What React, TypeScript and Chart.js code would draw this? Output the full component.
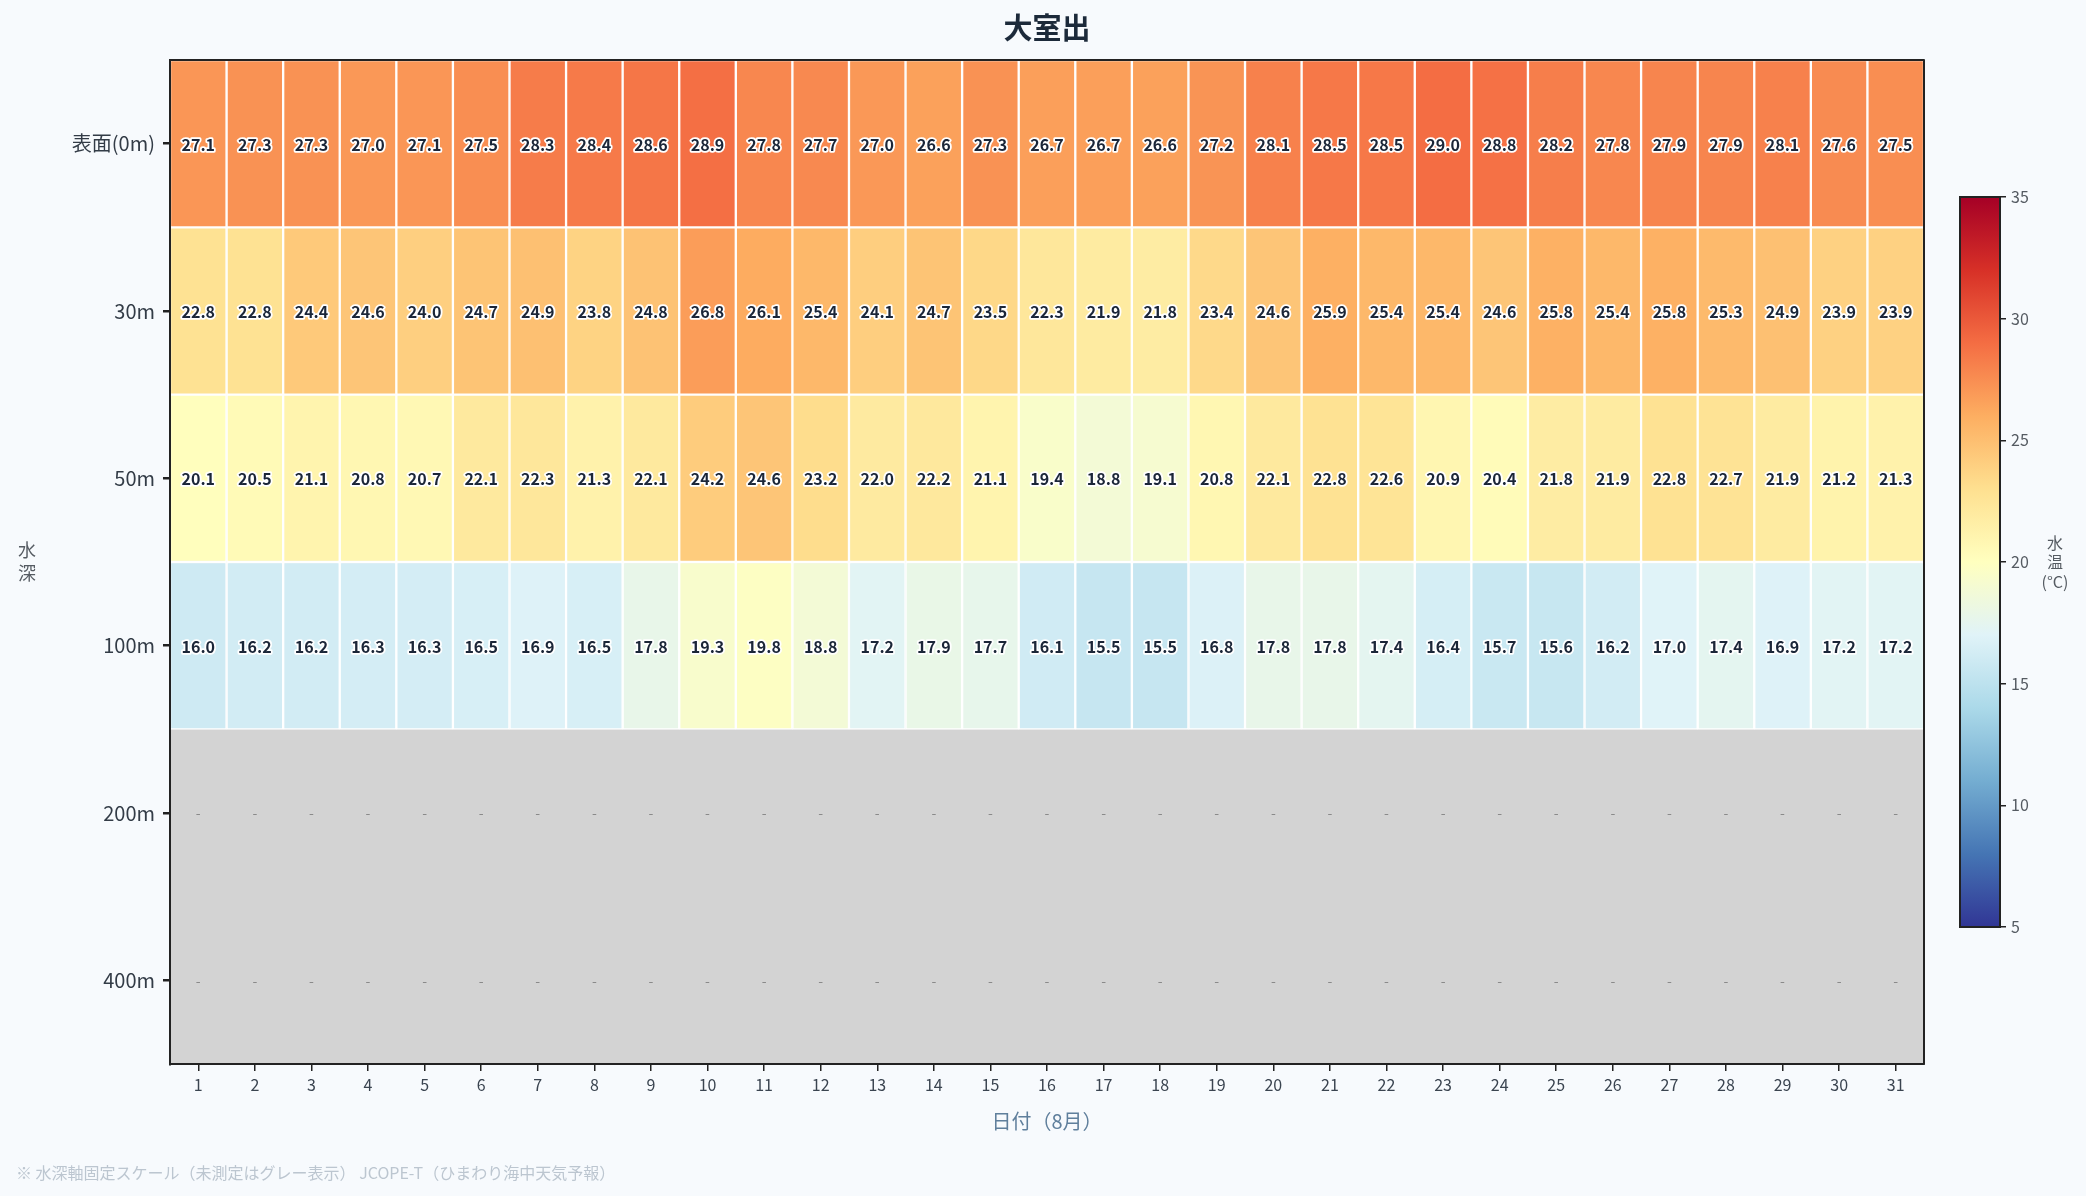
import { useEffect, useRef } from "react";
import { Chart, registerables } from "chart.js";

Chart.register(...registerables);

// 日付（8月）
const days = [
  1, 2, 3, 4, 5, 6, 7, 8, 9, 10, 11, 12, 13, 14, 15, 16, 17, 18, 19, 20, 21,
  22, 23, 24, 25, 26, 27, 28, 29, 30, 31,
];
const depthLabels = ["表面(0m)", "30m", "50m", "100m", "200m", "400m"];

// 水温 (°C) per depth, one value per day; null = 未測定
const temp0m = [
  27.1, 27.3, 27.3, 27.0, 27.1, 27.5, 28.3, 28.4, 28.6, 28.9, 27.8, 27.7, 27.0,
  26.6, 27.3, 26.7, 26.7, 26.6, 27.2, 28.1, 28.5, 28.5, 29.0, 28.8, 28.2, 27.8,
  27.9, 27.9, 28.1, 27.6, 27.5,
];
const temp30m = [
  22.8, 22.8, 24.4, 24.6, 24.0, 24.7, 24.9, 23.8, 24.8, 26.8, 26.1, 25.4, 24.1,
  24.7, 23.5, 22.3, 21.9, 21.8, 23.4, 24.6, 25.9, 25.4, 25.4, 24.6, 25.8, 25.4,
  25.8, 25.3, 24.9, 23.9, 23.9,
];
const temp50m = [
  20.1, 20.5, 21.1, 20.8, 20.7, 22.1, 22.3, 21.3, 22.1, 24.2, 24.6, 23.2, 22.0,
  22.2, 21.1, 19.4, 18.8, 19.1, 20.8, 22.1, 22.8, 22.6, 20.9, 20.4, 21.8, 21.9,
  22.8, 22.7, 21.9, 21.2, 21.3,
];
const temp100m = [
  16.0, 16.2, 16.2, 16.3, 16.3, 16.5, 16.9, 16.5, 17.8, 19.3, 19.8, 18.8, 17.2,
  17.9, 17.7, 16.1, 15.5, 15.5, 16.8, 17.8, 17.8, 17.4, 16.4, 15.7, 15.6, 16.2,
  17.0, 17.4, 16.9, 17.2, 17.2,
];
const temp200m: (number | null)[] = [
  null, null, null, null, null, null, null, null, null, null, null, null, null,
  null, null, null, null, null, null, null, null, null, null, null, null, null,
  null, null, null, null, null,
];
const temp400m: (number | null)[] = [
  null, null, null, null, null, null, null, null, null, null, null, null, null,
  null, null, null, null, null, null, null, null, null, null, null, null, null,
  null, null, null, null, null,
];
const depthRows = [temp0m, temp30m, temp50m, temp100m, temp200m, temp400m];

const colorbarTicks = [5, 10, 15, 20, 25, 30, 35];
const tempMin = 5;
const tempMax = 35;

const BG = "#f7fafd";
const FONT = '"Noto Sans CJK JP", "Noto Sans", sans-serif';
// matplotlib RdYlBu_r
const RDYLBU_R = [
  "#313695",
  "#4575b4",
  "#74add1",
  "#abd9e9",
  "#e0f3f8",
  "#ffffbf",
  "#fee090",
  "#fdae61",
  "#f46d43",
  "#d73027",
  "#a50026",
];

function hexToRgb(h: string) {
  const n = parseInt(h.slice(1), 16);
  return [(n >> 16) & 255, (n >> 8) & 255, n & 255];
}

function tempColor(v: number | undefined) {
  if (v == null) return "#d3d3d3";
  const t = Math.min(1, Math.max(0, (v - tempMin) / (tempMax - tempMin)));
  const pos = t * (RDYLBU_R.length - 1);
  const i = Math.min(RDYLBU_R.length - 2, Math.floor(pos));
  const f = pos - i;
  const a = hexToRgb(RDYLBU_R[i]);
  const b = hexToRgb(RDYLBU_R[i + 1]);
  const c = a.map((x, k) => Math.round(x + (b[k] - x) * f));
  return `rgb(${c[0]}, ${c[1]}, ${c[2]})`;
}

const heatmapDecor = {
  id: "heatmapDecor",
  beforeDatasetsDraw(chart: any) {
    const { ctx, chartArea: a } = chart;
    ctx.save();
    ctx.fillStyle = "#d3d3d3"; // 未測定
    ctx.fillRect(a.left, a.top, a.right - a.left, a.bottom - a.top);
    ctx.restore();
  },
  afterDatasetsDraw(chart: any) {
    const { ctx, chartArea: a, scales } = chart;
    ctx.save();
    ctx.textAlign = "center";
    ctx.textBaseline = "middle";
    depthRows.forEach((row, r) => {
      const y = scales.y.getPixelForValue(r);
      row.forEach((v, i) => {
        const x = scales.x.getPixelForValue(days[i]);
        if (v == null) {
          ctx.font = `14px ${FONT}`;
          ctx.fillStyle = "#8a8a8a";
          ctx.fillText("-", x, y);
        } else {
          ctx.font = `bold 16px ${FONT}`;
          ctx.lineJoin = "round";
          ctx.lineWidth = 3.5;
          ctx.strokeStyle = "#ffffff";
          ctx.strokeText(v.toFixed(1), x, y + 1);
          ctx.fillStyle = "#1b2638";
          ctx.fillText(v.toFixed(1), x, y + 1);
        }
      });
    });
    ctx.strokeStyle = "#222222";
    ctx.lineWidth = 2;
    ctx.strokeRect(a.left, a.top, a.right - a.left, a.bottom - a.top);
    ctx.restore();
  },
  afterDraw(chart: any) {
    const { ctx, chartArea: a } = chart;
    ctx.save();
    ctx.textBaseline = "middle";
    ctx.textAlign = "center";
    ctx.fillStyle = "#1c2a3a";
    ctx.font = `bold 29px ${FONT}`;
    ctx.fillText("大室出", (a.left + a.right) / 2, 28);

    ctx.fillStyle = "#555b62";
    ctx.font = `18px ${FONT}`;
    ctx.fillText("水", 27, 550);
    ctx.fillText("深", 27, 573);

    ctx.font = `16px ${FONT}`;
    ctx.fillText("水", 2055, 543);
    ctx.fillText("温", 2055, 562);
    ctx.fillText("(°C)", 2055, 582);

    ctx.textAlign = "left";
    ctx.fillStyle = "#bcc6d0";
    ctx.font = `16px ${FONT}`;
    ctx.fillText(
      "※ 水深軸固定スケール（未測定はグレー表示） JCOPE-T（ひまわり海中天気予報）",
      16,
      1173
    );
    ctx.restore();
  },
};

const colorbarFrame = {
  id: "colorbarFrame",
  afterDatasetsDraw(chart: any) {
    const { ctx, chartArea: a } = chart;
    ctx.save();
    ctx.strokeStyle = "#222222";
    ctx.lineWidth = 2;
    ctx.strokeRect(a.left, a.top, a.right - a.left, a.bottom - a.top);
    ctx.restore();
  },
};

export default function App() {
  const chartRef = useRef<HTMLCanvasElement>(null);
  const barRef = useRef<HTMLCanvasElement>(null);

  useEffect(() => {
    document.body.style.margin = "0";
    document.body.style.background = BG;
    if (!chartRef.current || !barRef.current) return;

    const main = new Chart(chartRef.current, {
      type: "bar",
      data: {
        labels: depthLabels,
        datasets: depthRows.map((row, r) => ({
          label: depthLabels[r],
          data: row.flatMap((v, i) =>
            v == null
              ? []
              : [{ x: [days[i] - 0.5, days[i] + 0.5], y: depthLabels[r], v }]
          ),
          backgroundColor: (c: any) => tempColor(c.raw?.v),
          borderColor: "#ffffff",
          borderWidth: 1.5,
          borderSkipped: false,
          barPercentage: 1,
          categoryPercentage: 1,
          grouped: false,
        })) as any,
      },
      options: {
        indexAxis: "y",
        responsive: false,
        animation: false,
        events: [],
        layout: { padding: { top: 60, right: 162, left: 0, bottom: 0 } },
        plugins: {
          legend: { display: false },
          tooltip: { enabled: false },
        },
        scales: {
          x: {
            type: "linear",
            min: days[0] - 0.5,
            max: days[days.length - 1] + 0.5,
            afterBuildTicks: (s: any) => {
              s.ticks = days.map((d) => ({ value: d }));
            },
            afterFit: (s: any) => {
              s.height = 132;
            },
            ticks: {
              color: "#3a4450",
              font: { family: FONT, size: 16 },
              padding: 4,
              maxRotation: 0,
              autoSkip: false,
            },
            grid: {
              drawOnChartArea: false,
              tickLength: 7,
              color: "#222222",
              lineWidth: 1.5,
            },
            border: { display: true, color: "#222222", width: 2 },
            title: {
              display: true,
              text: "日付（8月）",
              color: "#5f7f9c",
              font: { family: FONT, size: 20 },
              padding: { top: 0, bottom: 63 },
            },
          },
          y: {
            type: "category",
            afterFit: (s: any) => {
              s.width = 170;
            },
            ticks: {
              color: "#333c47",
              font: { family: FONT, size: 20 },
              padding: 8,
            },
            grid: {
              offset: false,
              drawOnChartArea: false,
              tickLength: 7,
              color: "#222222",
              lineWidth: 2.5,
            },
            border: { display: true, color: "#222222", width: 2 },
          },
        },
      },
      plugins: [heatmapDecor],
    });

    const bar = new Chart(barRef.current, {
      type: "bar",
      data: {
        labels: ["水温"],
        datasets: [
          {
            data: [[tempMin, tempMax]] as any,
            backgroundColor: (c: any) => {
              const a = c.chart.chartArea;
              if (!a) return RDYLBU_R[5];
              const g = c.chart.ctx.createLinearGradient(0, a.bottom, 0, a.top);
              RDYLBU_R.forEach((col, i) =>
                g.addColorStop(i / (RDYLBU_R.length - 1), col)
              );
              return g;
            },
            borderWidth: 0,
            barPercentage: 1,
            categoryPercentage: 1,
          },
        ],
      },
      options: {
        responsive: false,
        animation: false,
        events: [],
        layout: { padding: { top: 17, bottom: 23, left: 10, right: 0 } },
        plugins: {
          legend: { display: false },
          tooltip: { enabled: false },
        },
        scales: {
          x: { display: false },
          y: {
            position: "right",
            min: tempMin,
            max: tempMax,
            afterBuildTicks: (s: any) => {
              s.ticks = colorbarTicks.map((v) => ({ value: v }));
            },
            afterFit: (s: any) => {
              s.width = 50;
            },
            ticks: {
              color: "#555b62",
              font: { family: FONT, size: 16 },
              padding: 5,
            },
            grid: {
              drawOnChartArea: false,
              tickLength: 6,
              color: "#222222",
              lineWidth: 1.5,
            },
            border: { display: true, color: "#222222", width: 2 },
          },
        },
      },
      plugins: [colorbarFrame],
    });

    return () => {
      main.destroy();
      bar.destroy();
    };
  }, []);

  return (
    <div
      style={{
        position: "relative",
        width: 2086,
        height: 1196,
        background: BG,
        overflow: "hidden",
      }}
    >
      <canvas
        ref={chartRef}
        width={2086}
        height={1196}
        style={{ position: "absolute", left: 0, top: 0 }}
      />
      <canvas
        ref={barRef}
        width={100}
        height={770}
        style={{ position: "absolute", left: 1950, top: 180 }}
      />
    </div>
  );
}
